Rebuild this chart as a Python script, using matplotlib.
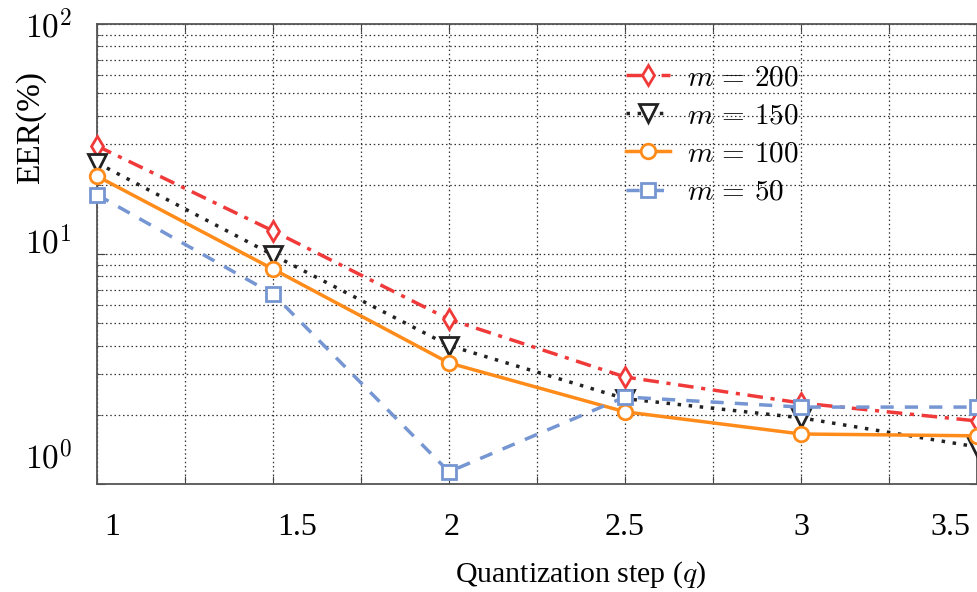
import matplotlib
matplotlib.use("Agg")
import matplotlib.pyplot as plt
import matplotlib.transforms as mtransforms
from matplotlib.ticker import FixedLocator, NullFormatter

# quantization steps and EER values
q = [1.0, 1.5, 2.0, 2.5, 3.0, 3.5]
eer_m200 = [29.5, 12.6, 5.2, 2.92, 2.25, 1.88]
eer_m150 = [24.9, 9.9, 4.0, 2.35, 1.94, 1.45]
eer_m100 = [21.8, 8.6, 3.36, 2.06, 1.65, 1.62]
eer_m50 = [18.1, 6.7, 1.13, 2.39, 2.16, 2.16]

xtick_vals = [1.0, 1.5, 2.0, 2.5, 3.0, 3.5]
xtick_text = ["1", "1.5", "2", "2.5", "3", "3.5"]
ytick_vals = [1, 10, 100]
ytick_text = [r"$10^0$", r"$10^1$", r"$10^2$"]

plt.rcParams["mathtext.fontset"] = "cm"
plt.rcParams["font.family"] = ["Liberation Serif", "DejaVu Serif"]

fig = plt.figure(figsize=(9.77, 5.92), dpi=100)
ax = fig.add_axes([0.0993, 0.1824, 0.9007, 0.7771])

series = [
    (eer_m200, r"$m\,=\,200$", "#f03a3a", (0, (4.5, 2.2, 1.2, 2.2)), "d", 10.5),
    (eer_m150, r"$m\,=\,150$", "#222222", (0, (1, 2.2)), "v", 13),
    (eer_m100, r"$m\,=\,100$", "#ff8c1a", "-", "o", 10.5),
    (eer_m50, r"$m\,=\,50$", "#7596d2", (0, (3.8, 3.2)), "s", 10.5),
]
for vals, lab, col, ls, mk, ms in series:
    ax.plot(q, vals, color=col, linestyle=ls, linewidth=2.5, marker=mk,
            markersize=ms, markerfacecolor="white", markeredgecolor=col,
            markeredgewidth=2.0, label=lab, clip_on=False, zorder=3)

ax.set_yscale("log")
ax.set_ylim(1, 100)
ax.set_xlim(1.0, 3.5)

# grid on every quarter step and every log minor tick
ax.xaxis.set_major_locator(FixedLocator([1 + 0.25 * i for i in range(11)]))
ax.set_xticklabels([])
ax.yaxis.set_major_locator(FixedLocator(ytick_vals))
ax.yaxis.set_minor_locator(FixedLocator([k * 10 ** e for e in (0, 1) for k in range(2, 10)]))
ax.yaxis.set_minor_formatter(NullFormatter())
ax.grid(True, which="both", color="#333333", linestyle=(0, (1.2, 2.2)), linewidth=0.9)

ax.tick_params(which="both", direction="in", top=True, right=True, color="#444444")
ax.tick_params(which="major", length=6)
ax.tick_params(which="minor", length=3)
for s in ax.spines.values():
    s.set_color("#555555")
    s.set_linewidth(1.3)

# tick labels, shifted like in the original print
ax.set_yticklabels(ytick_text, fontsize=24)
ax.tick_params(axis="y", pad=18)
y_shift = [29, 14, 0]
for lbl, dy in zip(ax.get_yticklabels(), y_shift):
    lbl.set_transform(lbl.get_transform() + mtransforms.ScaledTranslation(0, dy / 100, fig.dpi_scale_trans))

x_shift = [15, 24, 3, 0, 0, -27]
for xv, txt, dx in zip(xtick_vals, xtick_text, x_shift):
    tr = ax.get_xaxis_transform() + mtransforms.ScaledTranslation(dx / 100, -0.43, fig.dpi_scale_trans)
    ax.text(xv, 0, txt, transform=tr, ha="center", va="center", fontsize=23)

ax.set_xlabel(r"Quantization step ($q$)", fontsize=21.5)
ax.xaxis.set_label_coords(0.55, -0.163)
ax.set_ylabel(r"EER(%)", fontsize=24)
ax.yaxis.set_label_coords(-0.058, 0.774)

leg = ax.legend(loc="upper left", bbox_to_anchor=(0.578, 0.955), frameon=False,
                fontsize=21, handlelength=1.5, handletextpad=0.6, labelspacing=0.4,
                borderpad=0.2)

fig.savefig("out.png", dpi=100)
